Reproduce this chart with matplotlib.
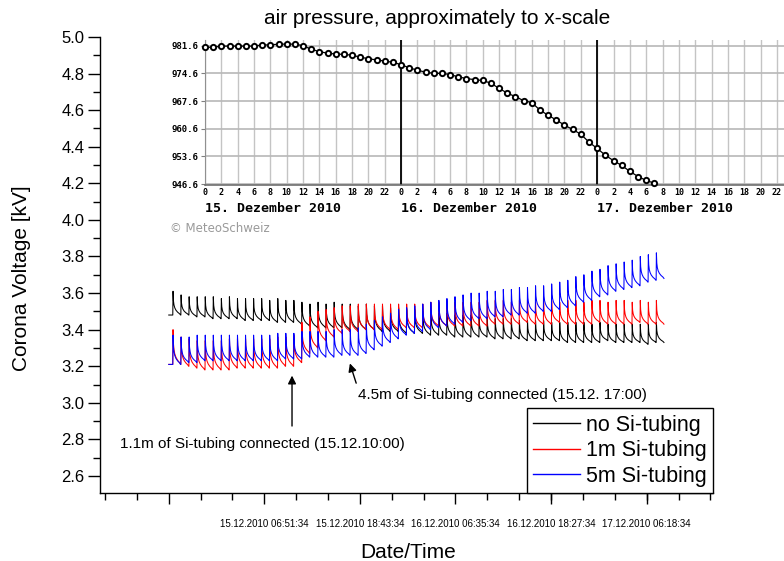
import numpy as np
import matplotlib
matplotlib.use('Agg')
import matplotlib.pyplot as plt
from matplotlib.ticker import FixedLocator, MultipleLocator
from matplotlib.lines import Line2D

plt.rcParams['font.family'] = ['Liberation Sans', 'DejaVu Sans']

# ---------------- data (time in hours from 15.12.2010 00:00) ----------------
series_start_hour = -5.0
first_spike_hour = -4.5   # one calibration spike per hour

black_base = [3.48, 3.48, 3.47, 3.47, 3.46, 3.46, 3.46, 3.46, 3.45, 3.45, 3.45, 3.45,
              3.44, 3.44, 3.44, 3.43, 3.42, 3.41, 3.41, 3.41, 3.41, 3.40, 3.40, 3.40,
              3.40, 3.39, 3.39, 3.39, 3.38, 3.38, 3.38, 3.37, 3.37, 3.37, 3.36, 3.36,
              3.36, 3.36, 3.36, 3.35, 3.35, 3.35, 3.35, 3.34, 3.34, 3.34, 3.34, 3.34,
              3.33, 3.33, 3.33, 3.33, 3.33, 3.34, 3.33, 3.33, 3.33, 3.33, 3.32, 3.33, 3.33]
black_peak = [3.61, 3.59, 3.58, 3.58, 3.58, 3.58, 3.57, 3.58, 3.57, 3.57, 3.57, 3.57,
              3.56, 3.57, 3.56, 3.56, 3.55, 3.54, 3.55, 3.54, 3.55, 3.54, 3.54, 3.53,
              3.54, 3.53, 3.53, 3.52, 3.52, 3.51, 3.51, 3.50, 3.50, 3.49, 3.49, 3.48,
              3.48, 3.48, 3.47, 3.47, 3.46, 3.46, 3.46, 3.45, 3.45, 3.45, 3.45, 3.44,
              3.44, 3.44, 3.44, 3.44, 3.43, 3.44, 3.43, 3.43, 3.43, 3.43, 3.43, 3.43, 3.44]

red_base = [3.21, 3.20, 3.19, 3.18, 3.18, 3.18, 3.18, 3.19, 3.19, 3.19, 3.19, 3.19,
            3.19, 3.20, 3.20, 3.22, 3.27, 3.30, 3.34, 3.36, 3.38, 3.39, 3.39, 3.40,
            3.40, 3.40, 3.40, 3.40, 3.41, 3.41, 3.41, 3.41, 3.42, 3.42, 3.42, 3.42,
            3.42, 3.42, 3.42, 3.43, 3.43, 3.43, 3.43, 3.44, 3.43, 3.43, 3.43, 3.44,
            3.43, 3.43, 3.43, 3.43, 3.44, 3.43, 3.43, 3.43, 3.43, 3.44, 3.43, 3.43, 3.43]
red_peak = [3.40, 3.36, 3.35, 3.34, 3.34, 3.34, 3.34, 3.35, 3.35, 3.35, 3.35, 3.35,
            3.35, 3.36, 3.36, 3.37, 3.44, 3.47, 3.50, 3.51, 3.52, 3.53, 3.53, 3.54,
            3.54, 3.54, 3.54, 3.54, 3.54, 3.54, 3.54, 3.54, 3.55, 3.55, 3.55, 3.55,
            3.55, 3.55, 3.55, 3.56, 3.56, 3.56, 3.55, 3.56, 3.56, 3.55, 3.56, 3.56,
            3.55, 3.56, 3.56, 3.55, 3.56, 3.56, 3.55, 3.56, 3.56, 3.55, 3.56, 3.55, 3.56]

blue_base = [3.21, 3.22, 3.22, 3.23, 3.23, 3.23, 3.23, 3.23, 3.23, 3.23, 3.23, 3.23,
             3.23, 3.24, 3.24, 3.24, 3.25, 3.25, 3.25, 3.25, 3.26, 3.26, 3.26, 3.27,
             3.29, 3.31, 3.33, 3.35, 3.37, 3.38, 3.39, 3.40, 3.41, 3.42, 3.43, 3.44,
             3.45, 3.46, 3.46, 3.47, 3.47, 3.48, 3.48, 3.49, 3.49, 3.50, 3.50, 3.51,
             3.52, 3.53, 3.55, 3.56, 3.58, 3.59, 3.61, 3.62, 3.63, 3.64, 3.66, 3.67, 3.68]
blue_peak = [3.37, 3.36, 3.36, 3.37, 3.37, 3.37, 3.37, 3.37, 3.37, 3.37, 3.37, 3.37,
             3.37, 3.38, 3.38, 3.38, 3.39, 3.39, 3.39, 3.39, 3.40, 3.40, 3.40, 3.41,
             3.43, 3.45, 3.47, 3.49, 3.51, 3.52, 3.53, 3.54, 3.55, 3.56, 3.57, 3.58,
             3.59, 3.60, 3.60, 3.61, 3.61, 3.62, 3.62, 3.63, 3.63, 3.64, 3.64, 3.65,
             3.66, 3.67, 3.69, 3.70, 3.72, 3.73, 3.75, 3.76, 3.77, 3.78, 3.80, 3.81, 3.82]

series_names = ['no Si-tubing', '1m Si-tubing', '5m Si-tubing']
series_colors = ['black', '#ff0000', '#0000ff']

# x tick positions (hours) and labels
major_tick_hours = [-5.008, 6.859, 18.726, 30.593, 42.459, 54.309]
major_tick_labels = ['', '15.12.2010 06:51:34', '15.12.2010 18:43:34',
                     '16.12.2010 06:35:34', '16.12.2010 18:27:34', '17.12.2010 06:18:34']

# air pressure (hPa), hourly from 15.12.2010 00:00
pressure_hours = list(range(56))
pressure_hpa = [981.2, 981.2, 981.5, 981.5, 981.5, 981.5, 981.5, 981.8, 981.8, 982.0,
                982.0, 982.0, 981.6, 980.7, 980.1, 979.7, 979.5, 979.4, 979.2, 978.7,
                978.3, 978.0, 977.7, 977.4, 976.8, 976.0, 975.4, 974.9, 974.6, 974.6,
                974.3, 973.7, 973.3, 973.0, 972.8, 972.1, 970.8, 969.6, 968.7, 967.7,
                967.2, 965.3, 964.0, 962.8, 961.5, 960.4, 959.2, 957.2, 955.6, 953.9,
                952.5, 951.3, 949.8, 948.5, 947.5, 946.8]
pressure_ticks = [946.6, 953.6, 960.6, 967.6, 974.6, 981.6]
day_labels = ['15. Dezember 2010', '16. Dezember 2010', '17. Dezember 2010']

# spike shape within one hourly cycle (style of the trace)
cycle_offsets = [0.0, 0.03, 0.08, 0.15, 0.25, 0.4, 0.6, 0.85, 0.97]
cycle_frac = [0.0, 1.0, 0.6, 0.42, 0.3, 0.2, 0.12, 0.05, 0.0]


def build_trace(base, peak):
    t = [series_start_hour]
    v = [base[0]]
    prev = base[0]
    for k in range(len(base)):
        t0 = first_spike_hour + k
        for off, f in zip(cycle_offsets, cycle_frac):
            t.append(t0 + off)
            if off == 0.0:
                v.append(prev)
            else:
                v.append(base[k] + f * (peak[k] - base[k]))
        prev = base[k]
    return np.array(t), np.array(v)


W, H = 784, 561
fig = plt.figure(figsize=(W / 100, H / 100), dpi=100)
fig.patch.set_facecolor('white')

def fx(px):
    return px / W

def fy(py):
    return 1 - py / H

ax = fig.add_axes([fx(100), fy(493), fx(713) - fx(100), fy(37) - fy(493)])
for (b, p), col in zip([(black_base, black_peak), (red_base, red_peak), (blue_base, blue_peak)],
                       series_colors):
    t, v = build_trace(b, p)
    ax.plot(t, v, color=col, lw=0.75)

px_per_h = 8.056
ax.set_xlim((100 - 209.04) / px_per_h, (713 - 209.04) / px_per_h)
ax.set_ylim(2.507, 5.0)
ax.spines['top'].set_visible(False)
ax.spines['right'].set_visible(False)
for s in ['left', 'bottom']:
    ax.spines[s].set_linewidth(1.0)
ax.yaxis.set_major_locator(FixedLocator(np.round(np.arange(2.6, 5.01, 0.2), 1)))
ax.yaxis.set_minor_locator(MultipleLocator(0.1))
ax.set_yticklabels(['%.1f' % y for y in np.arange(2.6, 5.01, 0.2)])
ax.xaxis.set_major_locator(FixedLocator(major_tick_hours))
ax.set_xticklabels(major_tick_labels)
minor_step = (major_tick_hours[1] - major_tick_hours[0]) / 3
ax.xaxis.set_minor_locator(FixedLocator([major_tick_hours[0] + i * minor_step for i in range(-2, 19)]))
ax.tick_params(axis='y', which='major', length=9, width=1, labelsize=12, pad=2)
ax.tick_params(axis='y', which='minor', length=5, width=1)
ax.tick_params(axis='x', which='major', length=8, width=1, labelsize=7, pad=11)
ax.tick_params(axis='x', which='minor', length=5, width=1)

handles = [Line2D([], [], color=c, lw=1.0) for c in series_colors]
leg = ax.legend(handles, series_names, loc='lower right', fontsize=15.5, frameon=True,
                fancybox=False, edgecolor='black', framealpha=1, borderaxespad=0,
                handlelength=2.2, handletextpad=0.25, labelspacing=0.2, borderpad=0.3)
leg.get_frame().set_linewidth(1.0)

# annotations
ax.annotate('', xy=(10.3, 3.164), xytext=(10.3, 2.858),
            arrowprops=dict(arrowstyle='-|>', color='black', lw=1, mutation_scale=12))
ax.text(-11.05, 2.775, '1.1m of Si-tubing connected (15.12.10:00)', fontsize=11,
        ha='left', va='center')
ax.annotate('', xy=(17.38, 3.23), xytext=(18.37, 3.093),
            arrowprops=dict(arrowstyle='-|>', color='black', lw=1, mutation_scale=12))
ax.text(18.5, 3.044, '4.5m of Si-tubing connected (15.12. 17:00)', fontsize=11,
        ha='left', va='center')

fig.text(fx(22), fy(278), 'Corona Voltage [kV]', rotation=90, ha='center', va='center', fontsize=15)
fig.text(fx(408), fy(552), 'Date/Time', ha='center', va='center', fontsize=15)
fig.text(fx(437), fy(19), 'air pressure, approximately to x-scale', ha='center', va='center', fontsize=15)

# ---------------- inset: air pressure chart ----------------
axi = fig.add_axes([fx(205), fy(185), 1 - fx(205), fy(40) - fy(185)])
in_px_per_h = 8.17
axi.set_xlim(0, (784 - 205) / in_px_per_h)
axi.set_ylim(946.6 - 0.25, 981.6 + (45.7 - 40) / 3.95)
for h in range(0, 72, 2):
    axi.axvline(h, color='#c4c4c4', lw=1.0, zorder=0)
for yv in pressure_ticks:
    axi.axhline(yv, color='#b8b8b8', lw=1.2, zorder=0)
for d in (24, 48):
    axi.axvline(d, color='black', lw=1.3, zorder=1)
axi.plot(pressure_hours, pressure_hpa, '-o', color='black', lw=0.9, ms=3.8,
         mfc='white', mec='black', mew=1.4, zorder=3, clip_on=False)
for s in ['top', 'right']:
    axi.spines[s].set_visible(False)
axi.spines['left'].set_color('#909090')
axi.spines['bottom'].set_color('#707070')
axi.spines['bottom'].set_linewidth(1.2)
axi.set_yticks(pressure_ticks)
axi.set_yticklabels(['%.1f' % p for p in pressure_ticks], family='DejaVu Sans Mono',
                    fontsize=6.5, fontweight='bold')
axi.set_xticks(list(range(0, 72, 2)))
axi.set_xticklabels([str(h % 24) for h in range(0, 72, 2)], family='DejaVu Sans Mono',
                    fontsize=6, fontweight='bold')
axi.tick_params(axis='x', length=0, pad=2)
axi.tick_params(axis='y', length=3, pad=1.5, color='#808080')
for i, lab in enumerate(day_labels):
    axi.text(24 * i, -0.165, lab, transform=axi.get_xaxis_transform(), ha='left', va='center',
             family='DejaVu Sans Mono', fontsize=9.5, fontweight='bold')
fig.text(fx(170), fy(229), '\u00a9 MeteoSchweiz', ha='left', va='center', fontsize=8.5,
         color='#9a9a9a', family=['DejaVu Sans'])

fig.savefig('out.png', dpi=100)
